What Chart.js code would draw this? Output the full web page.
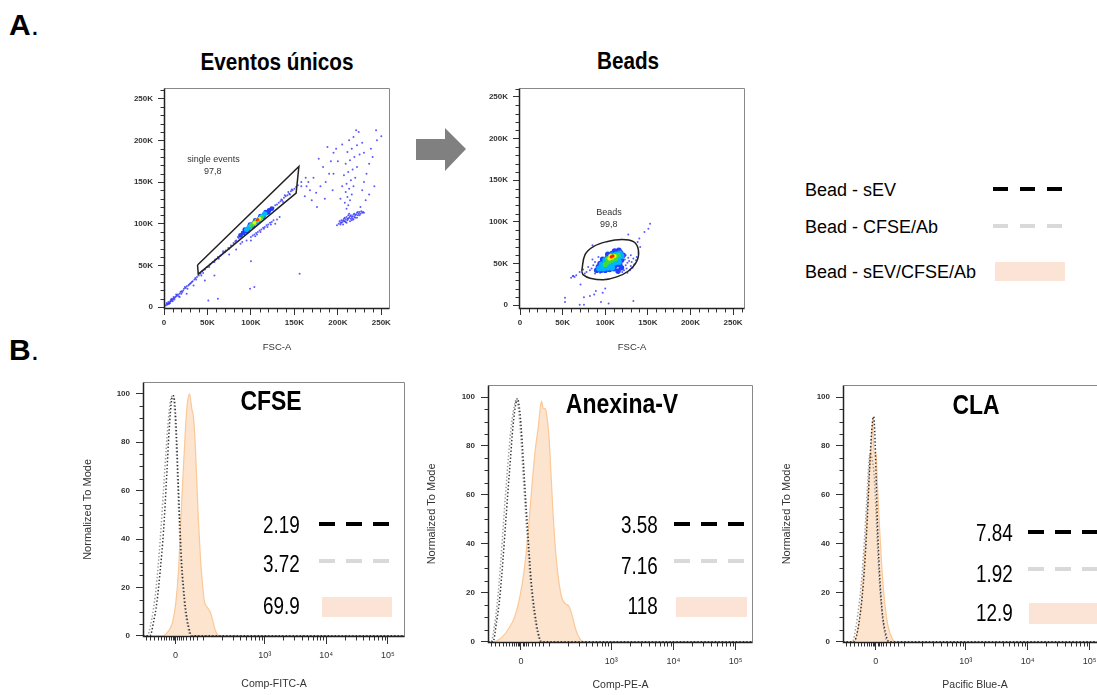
<!DOCTYPE html>
<html>
<head>
<meta charset="utf-8">
<script src="https://cdn.jsdelivr.net/npm/chart.js@4.4.1/dist/chart.umd.min.js"></script>
<style>
html, body { margin: 0; padding: 0; width: 1097px; height: 695px; overflow: hidden; background: #fff; }
body { position: relative; font-family: 'Liberation Sans', Arial, sans-serif; color: #000; }
canvas, .t, svg { position: absolute; }
.t { line-height: 1; white-space: nowrap; }
.title { font-weight: bold; font-size: 23px; transform: translateX(-50%) scaleX(0.9); }
.panel { font-weight: bold; font-size: 28px; transform: translateX(-50%) scaleX(0.82); }
.num { font-size: 23px; transform: scaleX(0.82); transform-origin: right center; }
.leg { font-size: 18px; }
.big { font-size: 30px; }
</style>
</head>
<body>

<div class="t big" style="left:9px; top:10px;"><b>A</b>.</div>
<div class="t big" style="left:9px; top:335px;"><b>B</b>.</div>

<div class="t title" style="left:277px; top:51px;">Eventos únicos</div>
<div class="t title" style="left:628px; top:50px;">Beads</div>

<canvas id="scatter1" width="275" height="279" style="left:120px; top:78px;"></canvas>
<canvas id="scatter2" width="275" height="279" style="left:475px; top:78px;"></canvas>
<canvas id="histCfse" width="330" height="322" style="left:80px; top:371px;"></canvas>
<canvas id="histAnex" width="333" height="320" style="left:425px; top:374px;"></canvas>
<canvas id="histCla" width="332" height="320" style="left:780px; top:374px;"></canvas>

<div class="t panel" style="left:271px; top:387px;">CFSE</div>
<div class="t panel" style="left:622px; top:390px;">Anexina-V</div>
<div class="t panel" style="left:976px; top:391px;">CLA</div>

<div class="t leg" style="left:805px; top:181px;">Bead - sEV</div>
<div class="t leg" style="left:805px; top:218px;">Bead - CFSE/Ab</div>
<div class="t leg" style="left:805px; top:263px;">Bead - sEV/CFSE/Ab</div>

<div class="t num" style="right:797px; top:514px;">2.19</div>
<div class="t num" style="right:797px; top:553px;">3.72</div>
<div class="t num" style="right:797px; top:595px;">69.9</div>
<div class="t num" style="right:439px; top:514px;">3.58</div>
<div class="t num" style="right:439px; top:555px;">7.16</div>
<div class="t num" style="right:439px; top:595px;">118</div>
<div class="t num" style="right:84px; top:522px;">7.84</div>
<div class="t num" style="right:84px; top:563px;">1.92</div>
<div class="t num" style="right:84px; top:602px;">12.9</div>

<svg width="1097" height="695" style="left:0; top:0; pointer-events:none;">
  <polygon points="416,139 445,139 445,128 466,149 445,171 445,160 416,160" fill="#808080"/>
  <line x1="993" y1="189" x2="1063" y2="189" stroke="#000" stroke-width="4" stroke-dasharray="15 12"/>
  <line x1="993" y1="226" x2="1063" y2="226" stroke="#d9d9d9" stroke-width="4" stroke-dasharray="15 12"/>
  <rect x="995" y="262" width="70" height="19" fill="#fbe4d5"/>
  <line x1="319" y1="524" x2="389" y2="524" stroke="#000" stroke-width="4" stroke-dasharray="16 11"/>
  <line x1="319" y1="561" x2="389" y2="561" stroke="#d9d9d9" stroke-width="4" stroke-dasharray="16 11"/>
  <rect x="322" y="597" width="70" height="20" fill="#fbe4d5"/>
  <line x1="674" y1="524" x2="744" y2="524" stroke="#000" stroke-width="4" stroke-dasharray="16 11"/>
  <line x1="674" y1="561" x2="744" y2="561" stroke="#d9d9d9" stroke-width="4" stroke-dasharray="16 11"/>
  <rect x="676" y="597" width="71" height="20" fill="#fbe4d5"/>
  <line x1="1028" y1="532" x2="1100" y2="532" stroke="#000" stroke-width="4" stroke-dasharray="16 11"/>
  <line x1="1028" y1="569" x2="1100" y2="569" stroke="#d9d9d9" stroke-width="4" stroke-dasharray="16 11"/>
  <rect x="1029" y="603" width="70" height="21" fill="#fbe4d5"/>
</svg>

<script>
// ---- axes ----
const scatterTickVals = [0, 50, 100, 150, 200, 250];
const scatterTickLabels = ['0', '50K', '100K', '150K', '200K', '250K'];
const scatterMinor = [10, 20, 30, 40, 60, 70, 80, 90, 110, 120, 130, 140, 160, 170, 180, 190, 210, 220, 230, 240, 260];

const histYVals = [0, 20, 40, 60, 80, 100];
const histYLabels = ['0', '20', '40', '60', '80', '100'];
const histYMinor = [5, 10, 15, 25, 30, 35, 45, 50, 55, 65, 70, 75, 85, 90, 95];
const histXVals = [1.55, 3, 4, 5];
const histXLabels = ['0', '10³', '10⁴', '10⁵'];
const histXNearZero = [1.07, 1.14, 1.2, 1.26, 1.31, 1.36, 1.4, 1.44, 1.47, 1.5, 1.52, 1.58, 1.6, 1.63, 1.67, 1.72, 1.78, 1.84, 1.9, 2.0];
const histXMinor = histXNearZero.concat([2, 3, 4].flatMap(d => [2, 3, 4, 5, 6, 7, 8, 9].map(k => d + Math.log10(k))));

// ---- Eventos únicos (FSC-A vs SSC-A, in K) ----
const s1Gate = [[38.6, 50.5], [39.4, 39.5], [152, 136.6], [155.2, 168.7], [38.6, 50.5]];
const s1Diagonal = [[2,2],[3,3],[3,5],[4,3],[4,4],[5,4],[5,6],[6,4],[6,5],[7,5],[7,7],[8,7],[8,9],[9,8],[9,10],[10,7],[10,9],[11,10],[11,12],[12,9],[12,11],[13,12],[14,13],[14,15],[15,14],[16,15],[17,13],[18,16],[19,18],[20,16],[20,19],[21,18],[22,20],[23,22],[24,24],[25,23],[26,25],[27,22],[28,26],[29,27],[30,28],[31,29],[32,30],[33,31],[35,33],[36,35],[37,33],[38,36],[40,38],[42,40],[44,43],[45,41],[47,45],[50,48],[52,48],[53,51],[56,54],[58,54],[59,57],[62,60],[63,58],[65,62],[68,65],[70,66],[71,68],[74,71],[75,70],[77,74],[80,77],[82,79],[83,80],[86,83]];
const s1Core = [[85,84],[88,86],[90,89],[92,88],[93,91],[95,92],[96,95],[98,94],[99,97],[101,99],[102,97],[104,100],[105,103],[107,102],[108,106],[110,104],[111,108],[113,107],[114,110],[116,109],[117,113],[119,112],[120,116],[122,115],[124,118],[126,119],[128,122],[94,94],[97,97],[103,102],[109,108],[115,112],[121,117]];
const s1Upper = [[130,123],[132,125],[134,127],[135,129],[136,128],[137,126],[138,131],[139,134],[140,133],[142,134],[143,138],[144,136],[145,135],[146,139],[147,141],[148,140],[150,142],[152,144],[154,146],[158,150],[163,155],[164,145]];
const s1Doublets = [[100,84],[102,86],[104,87],[105,85],[106,89],[107,87],[108,90],[110,92],[111,90],[112,93],[114,95],[115,94],[116,96],[118,98],[119,96],[120,99],[122,101],[123,99],[124,102],[126,104],[128,100],[130,105],[133,108],[95,80],[90,78],[88,76],[100,80]];
const s1Outliers = [[58,38],[51,8],[62,10],[100,55],[104,24],[99,22],[156,40],[47,32],[43,38],[83,69],[75,63],[68,67],[26,16],[18,12],[34,26]];
const s1Right = [[199,98],[201,100],[202,103],[203,101],[204,104],[205,102],[206,99],[206,104],[207,106],[208,103],[208,107],[209,105],[210,101],[210,108],[211,104],[212,106],[212,110],[213,107],[214,103],[214,109],[215,106],[216,104],[216,108],[217,109],[218,105],[218,111],[219,108],[220,107],[220,110],[221,111],[222,107],[222,113],[223,110],[224,112],[225,114],[226,112],[228,113],[229,114],[230,113],[204,101],[207,103],[211,106],[215,110],[219,112],[223,114],[203,99],[209,102],[217,106],[225,110],[227,115],[213,112]];
const s1Plume = [[210,118],[212,122],[208,125],[214,128],[211,132],[216,135],[209,138],[213,142],[218,145],[210,148],[215,152],[220,155],[207,158],[212,162],[217,165],[222,168],[209,172],[214,176],[219,180],[225,183],[211,186],[216,190],[222,194],[228,197],[213,200],[218,204],[221,212],[224,210],[230,150],[233,160],[236,172],[240,180],[228,140],[232,128],[226,120],[236,135],[242,145],[238,190],[245,200],[244,212],[250,205],[230,185],[205,145],[203,130],[200,175],[195,160],[198,190],[205,195]];
const s1Left = [[162,133],[168,140],[175,137],[180,145],[186,150],[172,155],[190,160],[183,168],[192,175],[178,178],[195,185],[188,192],[166,150],[185,130],[170,128],[158,145],[176,120],[194,140]];
const s1Edge = [[261,257],[261,225],[261,173],[261,164],[261,134]];
const s1DenseBlue = [[88,86],[91,89],[94,91],[97,94],[100,97],[103,100],[106,102],[109,105],[112,108],[115,111],[118,113],[121,116],[124,118],[93,93],[99,99],[105,104],[111,109],[117,114],[96,91],[102,97],[108,103],[114,108],[120,114]];
const s1DenseCyan = [[95,93],[98,96],[101,98],[104,101],[107,103],[110,106],[113,109],[116,112]];
const s1DenseGreen = [[100,98],[103,100],[106,103],[109,105],[112,108]];
const s1DenseYellow = [[104,101],[107,104],[110,106]];
const s1DenseRed = [[107,104],[108,105]];

// ---- Beads ----
const s2Gate = [[72.4,41.1],[76.3,60.7],[86.1,70.4],[101.7,76.3],[119.4,79.0],[133.1,76.3],[138.9,66.5],[137,52.8],[127.2,41.1],[113.5,34.0],[97.8,30.5],[82.2,32.5],[74.3,36.4],[72.4,41.1]];
const s2DenseBlue = [[90,42],[95,42],[100,42],[105,43],[110,44],[92,46],[97,46],[102,47],[107,47],[112,48],[117,49],[94,50],[99,51],[104,52],[109,52],[114,53],[119,54],[97,55],[102,56],[107,57],[112,58],[117,59],[121,60],[103,61],[108,62],[113,63],[118,63],[111,65],[116,66],[115,41],[119,45]];
const s2DenseCyan = [[93,44],[98,44],[103,45],[108,45],[96,49],[101,50],[106,50],[111,51],[116,52],[100,54],[105,55],[110,56],[115,57],[119,59],[108,60],[113,61],[117,62]];
const s2DenseGreen = [[100,49],[104,52],[108,54],[112,56],[106,58],[110,59],[115,60],[103,56]];
const s2DenseYellow = [[105,56],[108,57],[111,59],[106,59]];
const s2DenseRed = [[107,58],[109,59]];
const s2Speckle = [[118,44],[121,46],[124,48],[126,51],[128,53],[122,42],[125,44],[130,47],[131,52],[133,56],[127,57],[123,55],[129,42],[134,49],[136,54],[120,40],[126,39],[132,45],[137,58],[124,60],[130,60],[84,44],[86,48],[82,42],[80,46],[88,52],[85,55],[78,40],[92,58],[76,38],[74,43],[70,40],[66,36],[62,35],[60,33],[88,38],[94,39]];
const s2Outliers = [[152.6,97.8],[150.6,91.9],[146,88],[140,80],[127,85],[85,72],[62.6,35.2],[64,34],[52.8,9],[52.8,4],[70,0.5],[75,0.5],[75,9.6],[87,13],[89,17],[97,15],[95,4],[104,2],[133,5],[71,25],[82,11],[141,70],[138,76],[100,20]];

// ---- histograms: [display position, % of mode] ----
const cfseBeadSev = [[1.02,0],[1.135,0],[1.19,5.5],[1.244,13.5],[1.30,26.9],[1.353,43],[1.407,67],[1.444,84.5],[1.488,97.9],[1.515,99.2],[1.54,95.2],[1.569,80.4],[1.597,60.4],[1.623,44.3],[1.65,29.6],[1.678,20.2],[1.715,10.8],[1.759,4.1],[1.813,0],[5.28,0]];
const cfseBeadAb = [[1.02,0],[1.09,0],[1.14,4],[1.19,11],[1.25,24],[1.30,40],[1.36,63],[1.41,82],[1.46,96],[1.49,99],[1.525,96],[1.555,82],[1.585,62],[1.61,45],[1.635,31],[1.665,21],[1.70,11],[1.745,4],[1.795,0],[5.28,0]];
const cfseBeadMix = [[1.02,0],[1.353,0],[1.434,2],[1.50,5.5],[1.553,13.5],[1.597,26.9],[1.634,47],[1.672,67],[1.705,83],[1.737,95.2],[1.776,100],[1.813,93.9],[1.84,90.6],[1.867,80.4],[1.894,64.4],[1.92,48.3],[1.954,32.2],[1.987,21.4],[2.02,14],[2.06,12],[2.11,10],[2.15,6.7],[2.19,2.7],[2.257,0],[5.28,0]];

const anexBeadSev = [[1.02,0],[1.10,0],[1.155,7.7],[1.21,18.3],[1.263,34.3],[1.316,52.9],[1.371,71.5],[1.424,88.7],[1.468,97.4],[1.494,99.4],[1.532,94],[1.569,82],[1.60,68.8],[1.639,52.9],[1.677,38.2],[1.719,23.7],[1.774,11.7],[1.827,3.7],[1.88,0],[5.28,0]];
const anexBeadAb = [[1.02,0],[1.07,0],[1.12,6],[1.17,16],[1.22,31],[1.27,49],[1.325,68],[1.385,86],[1.44,96],[1.475,99],[1.51,95],[1.55,83],[1.58,70],[1.62,54],[1.66,39],[1.70,25],[1.755,12],[1.81,4],[1.86,0],[5.28,0]];
const anexBeadMix = [[1.02,0],[1.10,0],[1.236,1.7],[1.344,5],[1.452,10.4],[1.532,18.3],[1.60,29],[1.666,44.9],[1.73,64.8],[1.784,79.4],[1.827,87.4],[1.86,95.4],[1.88,98.3],[1.908,95.4],[1.945,95],[1.978,90],[2.005,82],[2.032,68.8],[2.065,52.9],[2.107,36.9],[2.15,26.3],[2.203,18.3],[2.258,15.7],[2.323,14.4],[2.376,10.4],[2.43,5],[2.50,1.1],[2.553,0],[5.28,0]];

const claBeadSev = [[1.02,0],[1.195,0],[1.277,7.7],[1.348,23.7],[1.401,44.9],[1.445,68.8],[1.472,82],[1.50,90.7],[1.515,92],[1.532,86],[1.553,68.8],[1.575,48.9],[1.608,29],[1.65,13],[1.705,3.7],[1.764,0],[5.28,0]];
const claBeadAb = [[1.02,0],[1.169,0],[1.239,7.7],[1.315,23.7],[1.374,44.9],[1.418,64.8],[1.445,75.5],[1.467,77],[1.494,74],[1.52,68.8],[1.553,52.9],[1.585,34.3],[1.629,17],[1.683,5],[1.738,0],[5.28,0]];
const claBeadMix = [[1.02,0],[1.195,0],[1.26,5],[1.315,15.7],[1.369,34.3],[1.413,52.9],[1.45,70.1],[1.478,82],[1.50,90.7],[1.52,76.8],[1.553,77],[1.575,64.8],[1.608,47.6],[1.646,30.6],[1.694,15.7],[1.748,6.3],[1.819,1],[1.873,0],[5.28,0]];

const FONT = "'Liberation Sans', 'DejaVu Sans', sans-serif";
Chart.defaults.font.family = FONT;
const pts = arr => arr.map(([x, y]) => ({ x, y }));

// frame round the plot area + short minor ticks
const framePlugin = {
    id: 'frame',
    afterDraw(chart, args, opts) {
        const { ctx, chartArea: a, scales } = chart;
        const L = Math.round(a.left) + 0.5, R = Math.round(a.right) - 0.5;
        const T = Math.round(a.top) + 0.5, B = Math.round(a.bottom) - 0.5;
        ctx.save();
        ctx.strokeStyle = '#333';
        ctx.lineWidth = 1;
        ctx.beginPath();
        (opts.minorX || []).forEach(v => {
            const p = Math.round(scales.x.getPixelForValue(v)) + 0.5;
            if (p < a.left || p > a.right) return;
            ctx.moveTo(p, B); ctx.lineTo(p, B + 4);
        });
        (opts.minorY || []).forEach(v => {
            const p = Math.round(scales.y.getPixelForValue(v)) + 0.5;
            if (p < a.top || p > a.bottom) return;
            ctx.moveTo(L, p); ctx.lineTo(L - 4, p);
        });
        ctx.stroke();
        ctx.strokeStyle = '#888';
        ctx.beginPath();
        ctx.moveTo(L, T); ctx.lineTo(R, T); ctx.lineTo(R, B);
        ctx.stroke();
        ctx.strokeStyle = '#222';
        ctx.lineWidth = 1.5;
        ctx.beginPath();
        ctx.moveTo(L, T); ctx.lineTo(L, B); ctx.lineTo(R, B);
        ctx.stroke();
        ctx.restore();
    }
};

// gate name and percentage, placed in data units
const gateLabels = {
    id: 'gateLabels',
    afterDatasetsDraw(chart, args, opts) {
        const { ctx, scales: { x, y } } = chart;
        ctx.save();
        ctx.font = '9px ' + FONT;
        ctx.fillStyle = '#333';
        ctx.textAlign = 'center';
        ctx.textBaseline = 'middle';
        (opts.items || []).forEach(it => ctx.fillText(it.text, x.getPixelForValue(it.at[0]), y.getPixelForValue(it.at[1])));
        ctx.restore();
    }
};

function axis(vals, labels, min, max, font, tickLen, pad, fit, title, titleSize, titlePad) {
    return {
        type: 'linear', min, max,
        afterBuildTicks: s => { s.ticks = vals.map(v => ({ value: v })); },
        afterFit: s => { if (s.isHorizontal()) s.height = fit; else s.width = fit; },
        ticks: { autoSkip: false, maxRotation: 0, color: '#333', font, padding: pad, callback: (v, i) => labels[i] },
        grid: { drawOnChartArea: false, tickLength: tickLen, tickColor: '#333', tickWidth: 1 },
        border: { display: false },
        title: { display: !!title, text: title, color: '#333', font: { size: titleSize }, padding: titlePad }
    };
}

function dots(data, color, r) {
    return { data: pts(data), backgroundColor: color, borderWidth: 0, pointRadius: r, pointHoverRadius: r };
}

function scatterChart(id, datasets, range, labels) {
    const tickFont = { size: 8, weight: 'bold' };
    new Chart(document.getElementById(id), {
        type: 'scatter',
        data: { datasets },
        options: {
            responsive: false,
            animation: false,
            events: [],
            layout: { padding: { top: 5, right: 5, left: 0, bottom: 0 } },
            scales: {
                x: axis(scatterTickVals, scatterTickLabels, range[0], range[1], tickFont, 6, 3, 48, 'FSC-A', 9.5, { top: 0, bottom: 4 }),
                y: axis(scatterTickVals, scatterTickLabels, range[2], range[3], tickFont, 6, 5, 44, '', 9, 0)
            },
            plugins: {
                legend: { display: false },
                tooltip: { enabled: false },
                frame: { minorX: scatterMinor, minorY: scatterMinor },
                gateLabels: { items: labels }
            }
        },
        plugins: [framePlugin, gateLabels]
    });
}

const gateLine = (data, tension) => ({ data: pts(data), showLine: true, borderColor: '#222', borderWidth: 1.5, pointRadius: 0, tension, fill: false });
const eventBlue = 'rgba(50,50,255,0.8)';

scatterChart('scatter1', [
    gateLine(s1Gate, 0),
    dots(s1DenseRed, '#ff3000', 1.4),
    dots(s1DenseYellow, '#eeee10', 1.9),
    dots(s1DenseGreen, '#3cd84a', 2.3),
    dots(s1DenseCyan, '#00b8ff', 2.5),
    dots(s1DenseBlue, '#1f3dff', 2.4),
    dots([].concat(s1Diagonal, s1Core, s1Upper, s1Doublets, s1Outliers, s1Right, s1Plume, s1Left, s1Edge), eventBlue, 1)
], [0, 260, -2.3, 263], [{ text: 'single events', at: [57, 177] }, { text: '97,8', at: [56, 163] }]);

scatterChart('scatter2', [
    gateLine(s2Gate, 0.4),
    dots(s2DenseRed, '#ff2000', 1.6),
    dots(s2DenseYellow, '#f2f200', 2.1),
    dots(s2DenseGreen, '#3ddc3d', 2.6),
    dots(s2DenseCyan, '#00b4ff', 3),
    dots(s2DenseBlue, '#2440ff', 2.8),
    dots([].concat(s2Speckle, s2Outliers), eventBlue, 1)
], [-1.2, 264, -4.5, 260.9], [{ text: 'Beads', at: [104.5, 111.5] }, { text: '99,8', at: [104, 96.6] }]);

function histChart(id, sev, ab, mix, xTitle, xFit, yTitlePad) {
    const curve = (data, color) => ({
        data: pts(data), showLine: true, borderColor: color, borderWidth: 1.5, borderDash: [1.4, 2.1],
        pointRadius: 0, cubicInterpolationMode: 'monotone', fill: false
    });
    new Chart(document.getElementById(id), {
        type: 'scatter',
        data: {
            datasets: [
                curve(sev, '#333333'),
                curve(ab, '#9c9c9c'),
                { data: pts(mix), showLine: true, borderColor: '#fbc896', borderWidth: 1.2, backgroundColor: '#fde4cf',
                  fill: 'origin', pointRadius: 0, cubicInterpolationMode: 'monotone' }
            ]
        },
        options: {
            responsive: false,
            animation: false,
            events: [],
            layout: { padding: { top: 5, right: 5, left: 0, bottom: 0 } },
            scales: {
                x: axis(histXVals, histXLabels, 1.02, 5.28, { size: 9 }, 7, 6, xFit, xTitle, 10.5, { top: 0, bottom: 3 }),
                y: axis(histYVals, histYLabels, -0.5, 105, { size: 8, weight: 'bold' }, 7, 6, 63, 'Normalized To Mode', 11, { top: yTitlePad, bottom: 0 })
            },
            plugins: {
                legend: { display: false },
                tooltip: { enabled: false },
                frame: { minorX: histXMinor, minorY: histYMinor }
            }
        },
        plugins: [framePlugin]
    });
}

histChart('histCfse', cfseBeadSev, cfseBeadAb, cfseBeadMix, 'Comp-FITC-A', 56, 1.5);
histChart('histAnex', anexBeadSev, anexBeadAb, anexBeadMix, 'Comp-PE-A', 51, 0.5);
histChart('histCla', claBeadSev, claBeadAb, claBeadMix, 'Pacific Blue-A', 51, 0);
</script>
</body>
</html>
